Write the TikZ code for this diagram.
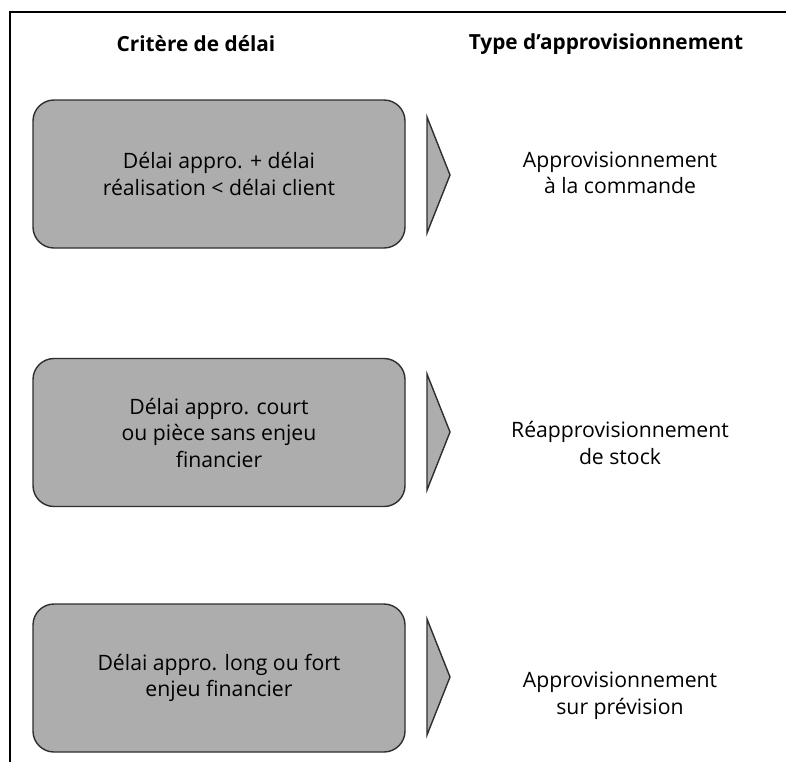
\documentclass[tikz,border=0pt]{standalone}
\usepackage{fontspec}
\setmainfont{Open Sans}
\definecolor{boxgray}{HTML}{ADADAD}
\definecolor{edge}{HTML}{2E2E2E}
\begin{document}
\begin{tikzpicture}[x=1pt,y=-1pt,
  critbox/.style={draw=edge,line width=1.4pt,fill=boxgray,rounded corners=21pt,
    minimum width=372pt,minimum height=148pt,align=center,font=\fontsize{21.2}{26.5}\selectfont,inner sep=0pt},
  tri/.style={draw=edge,line width=1.4pt,fill=boxgray,line join=miter},
  head/.style={font=\bfseries\fontsize{20.8}{26}\selectfont,inner sep=0pt},
  typetext/.style={align=center,font=\fontsize{21.2}{26.5}\selectfont,inner sep=0pt}]
\useasboundingbox (0,0) rectangle (786,761);
% frame
\draw[line width=2.6pt,line cap=rect] (786,12) -- (10,12) -- (10,761);
% headers
\node[head] (h1) at (196,44) {Critère de délai};
\node[head] (h2) at (606,44) {Type d’approvisionnement};
% boxes
\node[critbox] (b1) at (219,174) {Délai appro. + délai\\réalisation < délai client};
\node[critbox] (b2) at (219,432.5) {Délai appro. court\\ou pièce sans enjeu\\financier};
\node[critbox] (b3) at (219,678) {Délai appro. long ou fort\\enjeu financier};
% triangles
\foreach \n/\y in {1/175,2/432,3/677}{
  \coordinate (t\n a) at (427,\y-58);
  \coordinate (t\n b) at (450,\y);
  \coordinate (t\n c) at (427,\y+58);
  \draw[tri] (t\n a) -- (t\n b) -- (t\n c) -- cycle;
}
% types
\node[typetext] (r1) at (620,173) {Approvisionnement\\à la commande};
\node[typetext] (r2) at (620,443) {Réapprovisionnement\\de stock};
\node[typetext] (r3) at (620,696) {Approvisionnement\\sur prévision};
\end{tikzpicture}
\end{document}
